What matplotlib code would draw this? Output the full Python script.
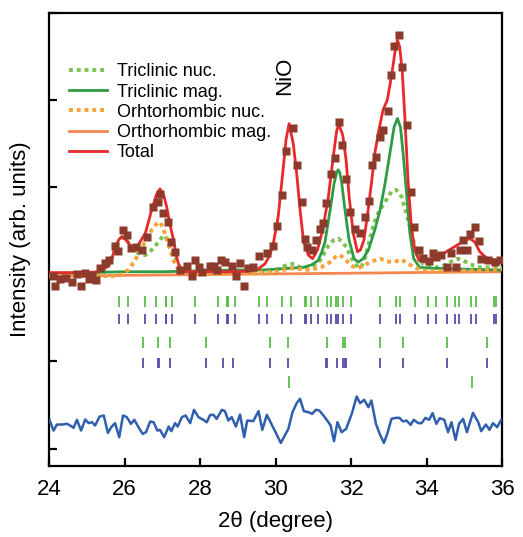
import numpy as np
import matplotlib
matplotlib.use("Agg")
import matplotlib.pyplot as plt

plt.rcParams['font.family'] = ['Liberation Sans', 'DejaVu Sans']

# observed intensity (brown squares)
obs_x = [24.10, 24.17, 24.30, 24.45, 24.60, 24.73, 24.85, 24.96, 25.05, 25.14, 25.24, 25.34,
         25.47, 25.58, 25.74, 25.84, 25.95, 26.06, 26.18, 26.30, 26.46, 26.59, 26.75, 26.88,
         26.95, 27.03, 27.15, 27.24, 27.34, 27.47, 27.65, 27.78, 27.87, 27.96, 28.05, 28.27,
         28.37, 28.44, 28.55, 28.66, 28.84, 28.95, 29.06, 29.17, 29.28, 29.41, 29.55, 29.77,
         29.94, 30.05, 30.16, 30.28, 30.45, 30.56, 30.69, 30.78, 30.84, 30.97, 31.07, 31.18,
         31.27, 31.35, 31.46, 31.57, 31.68, 31.75, 31.87, 31.97, 32.10, 32.25, 32.37, 32.47,
         32.55, 32.65, 32.77, 32.85, 32.97, 33.05, 33.14, 33.27, 33.36, 33.47, 33.58, 33.67,
         33.80, 33.91, 34.06, 34.16, 34.26, 34.38, 34.53, 34.64, 34.79, 34.88, 34.97, 35.07,
         35.16, 35.28, 35.39, 35.45, 35.63, 35.81, 35.94]
obs_y = [-0.02, -0.13, -0.05, -0.04, -0.09, 0.00, -0.13, 0.02, -0.05, -0.01, -0.06, 0.07,
         0.13, 0.16, 0.33, 0.27, 0.51, 0.45, 0.30, 0.31, 0.28, 0.43, 0.77, 0.83,
         0.92, 0.70, 0.60, 0.37, 0.26, 0.05, 0.10, -0.02, 0.16, 0.08, 0.03, 0.10,
         0.10, 0.05, 0.16, 0.14, 0.10, -0.02, 0.13, -0.13, 0.07, 0.08, 0.21, 0.24,
         0.33, 0.55, 0.91, 1.42, 1.68, 1.26, 0.83, 0.41, 0.31, 0.28, 0.40, 0.52,
         0.59, 0.82, 1.15, 1.34, 1.75, 1.48, 1.09, 0.72, 0.52, 0.48, 0.66, 0.84,
         1.26, 1.35, 1.58, 1.66, 1.87, 2.29, 2.62, 2.75, 2.38, 1.71, 0.95, 0.54,
         0.28, 0.19, 0.15, 0.25, 0.20, 0.22, 0.08, 0.24, 0.08, 0.28, 0.40, 0.28,
         0.46, 0.54, 0.38, 0.18, 0.16, 0.14, 0.16]

# total fit (red)
tot_x = [24.0, 24.5, 25.0, 25.3, 25.45, 25.58, 25.68, 25.75, 25.85, 25.93, 26.05, 26.21,
         26.35, 26.55, 26.72, 26.85, 26.94, 27.03, 27.12, 27.2, 27.3, 27.38, 27.47, 27.6,
         28.0, 28.5, 29.0, 29.3, 29.5, 29.72, 29.85, 29.94, 30.07, 30.2, 30.28, 30.36,
         30.47, 30.56, 30.65, 30.74, 30.87, 30.98, 31.11, 31.25, 31.4, 31.53, 31.62, 31.68,
         31.78, 31.87, 31.95, 32.06, 32.17, 32.25, 32.34, 32.43, 32.55, 32.63, 32.74, 32.85,
         32.96, 33.07, 33.16, 33.23, 33.29, 33.36, 33.43, 33.51, 33.6, 33.69, 33.8, 34.0,
         34.26, 34.53, 34.79, 35.01, 35.16, 35.28, 35.41, 35.58, 35.76, 35.95, 36.0]
tot_y = [0.02, 0.02, 0.02, 0.03, 0.06, 0.10, 0.20, 0.30, 0.40, 0.43, 0.39, 0.30,
         0.33, 0.47, 0.74, 0.92, 0.98, 0.92, 0.77, 0.58, 0.39, 0.20, 0.06, 0.03,
         0.03, 0.03, 0.03, 0.04, 0.05, 0.12, 0.22, 0.35, 0.66, 1.20, 1.55, 1.73,
         1.50, 1.16, 0.74, 0.39, 0.22, 0.18, 0.28, 0.51, 0.89, 1.35, 1.65, 1.72,
         1.60, 1.31, 0.89, 0.47, 0.26, 0.28, 0.39, 0.66, 1.08, 1.39, 1.66, 1.89,
         2.00, 2.27, 2.54, 2.69, 2.61, 2.31, 1.77, 1.08, 0.54, 0.28, 0.16, 0.14,
         0.19, 0.26, 0.33, 0.39, 0.41, 0.37, 0.26, 0.19, 0.17, 0.15, 0.15]

# triclinic magnetic (green solid)
tmag_x = [24.0, 25.0, 26.0, 27.0, 28.0, 29.0, 29.68, 30.38, 30.74, 30.96, 31.13, 31.22,
          31.31, 31.44, 31.55, 31.62, 31.66, 31.70, 31.75, 31.84, 31.95, 32.08, 32.19, 32.32,
          32.46, 32.63, 32.77, 32.9, 33.03, 33.14, 33.23, 33.31, 33.38, 33.47, 33.56, 33.66,
          33.82, 34.17, 35.0, 36.0]
tmag_y = [0.01, 0.02, 0.03, 0.03, 0.04, 0.05, 0.05, 0.07, 0.08, 0.11, 0.16, 0.25,
          0.37, 0.72, 1.04, 1.17, 1.20, 1.17, 1.06, 0.74, 0.39, 0.18, 0.14, 0.18,
          0.28, 0.51, 0.74, 1.04, 1.39, 1.69, 1.79, 1.69, 1.39, 0.93, 0.47, 0.18,
          0.08, 0.07, 0.06, 0.05]

# triclinic nuclear (green dotted)
tnuc_x = [24.0, 25.0, 25.4, 25.53, 25.67, 25.8, 25.93, 26.06, 26.21, 26.37, 26.55, 26.72,
          26.9, 27.03, 27.12, 27.21, 27.34, 27.47, 27.6, 28.0, 29.0, 29.8, 30.03, 30.2,
          30.38, 30.5, 30.65, 30.9, 31.05, 31.18, 31.3, 31.4, 31.53, 31.66, 31.78, 31.88,
          32.0, 32.1, 32.2, 32.27, 32.38, 32.49, 32.58, 32.67, 32.78, 32.9, 33.07, 33.2,
          33.34, 33.47, 33.6, 33.74, 33.91, 34.26, 34.45, 34.62, 34.84, 35.06, 35.25, 35.41,
          35.94, 36.0]
tnuc_y = [-0.01, 0.0, 0.01, 0.05, 0.20, 0.35, 0.43, 0.39, 0.30, 0.24, 0.22, 0.28,
          0.37, 0.45, 0.41, 0.33, 0.20, 0.08, 0.03, 0.02, 0.03, 0.04, 0.05, 0.09,
          0.12, 0.12, 0.08, 0.08, 0.11, 0.16, 0.25, 0.33, 0.39, 0.41, 0.37, 0.31,
          0.20, 0.12, 0.08, 0.08, 0.20, 0.39, 0.54, 0.66, 0.75, 0.83, 0.95, 0.97,
          0.89, 0.70, 0.47, 0.24, 0.12, 0.08, 0.10, 0.14, 0.18, 0.14, 0.10, 0.08,
          0.08, 0.08]

# orthorhombic nuclear (orange dotted)
onuc_x = [24.0, 25.0, 25.67, 25.93, 26.1, 26.28, 26.46, 26.59, 26.72, 26.85, 26.94, 27.03,
          27.16, 27.3, 27.43, 27.6, 28.0, 29.0, 30.0, 30.4, 30.7, 30.9, 31.2, 31.44,
          31.53, 31.65, 31.71, 31.8, 31.88, 32.0, 32.15, 32.3, 32.5, 32.77, 32.95, 33.12,
          33.34, 33.51, 33.74, 34.0, 35.0, 35.6, 36.0]
onuc_y = [-0.02, -0.02, -0.02, 0.0, 0.05, 0.16, 0.31, 0.41, 0.51, 0.58, 0.60, 0.52,
          0.35, 0.16, 0.05, 0.01, 0.0, 0.01, 0.03, 0.07, 0.06, 0.05, 0.08, 0.14,
          0.18, 0.22, 0.22, 0.19, 0.16, 0.10, 0.07, 0.09, 0.14, 0.18, 0.15, 0.14,
          0.17, 0.12, 0.07, 0.04, 0.04, 0.05, 0.06]

# orthorhombic magnetic (orange solid)
omag_x = [24.0, 30.0, 36.0]
omag_y = [-0.02, 0.005, 0.03]

# difference curve (blue)
diff_x = [24.02, 24.12, 24.21, 24.34, 24.48, 24.56, 24.65, 24.74, 24.85, 24.96, 25.05, 25.14,
          25.22, 25.34, 25.45, 25.56, 25.65, 25.75, 25.86, 25.96, 26.06, 26.17, 26.26, 26.37,
          26.48, 26.57, 26.68, 26.77, 26.87, 26.94, 27.05, 27.17, 27.24, 27.34, 27.41, 27.52,
          27.62, 27.74, 27.84, 27.96, 28.09, 28.18, 28.27, 28.36, 28.44, 28.58, 28.66, 28.75,
          28.84, 28.95, 29.06, 29.17, 29.25, 29.41, 29.55, 29.65, 29.77, 29.88, 30.00, 30.14,
          30.34, 30.45, 30.56, 30.65, 30.75, 30.87, 30.97, 31.07, 31.16, 31.27, 31.40, 31.46,
          31.55, 31.64, 31.75, 31.87, 32.02, 32.15, 32.24, 32.35, 32.46, 32.54, 32.66, 32.76,
          32.87, 32.96, 33.07, 33.19, 33.28, 33.38, 33.47, 33.58, 33.66, 33.78, 33.87, 33.97,
          34.07, 34.16, 34.26, 34.35, 34.47, 34.57, 34.66, 34.77, 34.86, 34.97, 35.07, 35.23,
          35.37, 35.45, 35.57, 35.67, 35.76, 35.87, 35.98]
diff_y = [-1.678, -1.793, -1.724, -1.724, -1.716, -1.735, -1.762, -1.670, -1.793, -1.666, -1.708, -1.697,
          -1.735, -1.632, -1.620, -1.820, -1.754, -1.708, -1.869, -1.620, -1.639, -1.716, -1.670, -1.754,
          -1.831, -1.812, -1.689, -1.697, -1.793, -1.785, -1.869, -1.747, -1.800, -1.708, -1.747, -1.639,
          -1.620, -1.708, -1.555, -1.639, -1.670, -1.697, -1.613, -1.613, -1.659, -1.555, -1.570, -1.678,
          -1.639, -1.747, -1.609, -1.869, -1.678, -1.685, -1.570, -1.785, -1.613, -1.708, -1.812, -1.935,
          -1.774, -1.582, -1.479, -1.429, -1.570, -1.582, -1.601, -1.555, -1.563, -1.620, -1.697, -1.735,
          -1.915, -1.697, -1.812, -1.774, -1.601, -1.402, -1.479, -1.440, -1.525, -1.448, -1.716, -1.831,
          -1.935, -1.831, -1.659, -1.647, -1.647, -1.689, -1.678, -1.728, -1.670, -1.708, -1.708, -1.647,
          -1.670, -1.593, -1.716, -1.651, -1.670, -1.812, -1.697, -1.900, -1.716, -1.659, -1.812, -1.590,
          -1.697, -1.800, -1.724, -1.785, -1.708, -1.754, -1.670]

# Bragg reflection positions
bragg_tri = [25.85, 26.10, 26.53, 26.83, 27.09, 27.11, 27.25, 27.87, 28.48, 28.71, 28.75, 28.93,
             29.57, 29.77, 30.17, 30.40, 30.78, 30.82, 30.93, 31.12, 31.37, 31.46, 31.59, 31.65,
             31.78, 32.01, 32.76, 33.18, 33.29, 33.69, 34.05, 34.24, 34.54, 34.75, 34.85, 35.19,
             35.30, 35.80, 35.83]
bragg_ort_a = [26.48, 26.90, 27.21, 28.17, 29.85, 30.34, 31.37, 31.78, 31.85, 32.77, 33.39,
               34.53, 35.61]
bragg_ort_b = [26.48, 26.90, 26.92, 27.21, 28.17, 28.61, 28.87, 29.85, 30.34, 31.35, 31.37,
               31.62, 31.78, 31.85, 31.87, 32.77, 33.39, 34.53, 35.61]
bragg_nio = [30.35, 35.20]

green_tick = '#5bbd4c'
purple_tick = '#5a4aa8'

fig = plt.figure(figsize=(5.23, 5.37), dpi=100)
ax = fig.add_axes([0.0937, 0.1322, 0.8662, 0.8436])

ax.plot(tnuc_x, tnuc_y, color='#7cc24e', lw=2.8, ls=(0, (1, 1)), label='Triclinic nuc.', zorder=3)
ax.plot(tmag_x, tmag_y, color='#2e9b45', lw=2.0, label='Triclinic mag.', zorder=3)
ax.plot(onuc_x, onuc_y, color='#f7a234', lw=2.8, ls=(0, (1, 1)), label='Orhtorhombic nuc.', zorder=3)
ax.plot(omag_x, omag_y, color='#f4874f', lw=2.0, label='Orthorhombic mag.', zorder=2)
ax.plot(tot_x, tot_y, color='#e8282b', lw=2.0, label='Total', zorder=4)
ax.plot(obs_x, obs_y, ls='none', marker='s', ms=5.5, color='#8b3a2b', mec='none', zorder=5)
ax.plot(diff_x, diff_y, color='#2f5fad', lw=1.8, zorder=3)

ax.vlines(bragg_tri, -0.38, -0.25, color=green_tick, lw=1.3)
ax.vlines(bragg_tri, -0.575, -0.45, color=purple_tick, lw=1.3)
ax.vlines(bragg_ort_a, -0.85, -0.72, color=green_tick, lw=1.3)
ax.vlines(bragg_ort_b, -1.08, -0.955, color=purple_tick, lw=1.3)
ax.vlines(bragg_nio, -1.30, -1.17, color=green_tick, lw=1.3)

ax.text(30.25, 2.28, 'NiO', rotation=90, ha='center', va='center', fontsize=16)

ax.set_xlim(24, 36)
ax.set_ylim(-2.2, 3)
ax.set_xticks(np.arange(24, 37, 2))
ax.set_yticks([-2, -1, 0, 1, 2, 3])
ax.set_yticklabels([])
ax.tick_params(direction='in', length=6, width=1.6, labelsize=16, pad=9,
               top=False, right=False)
for s in ax.spines.values():
    s.set_linewidth(1.6)

ax.set_xlabel('2\u03b8 (degree)', fontsize=16, labelpad=8)
ax.set_ylabel('Intensity (arb. units)', fontsize=16, labelpad=4)

ax.legend(loc='upper left', bbox_to_anchor=(0.028, 0.905), frameon=False, fontsize=13,
          handlelength=2.1, handletextpad=0.55, labelspacing=0.18, borderaxespad=0)

fig.savefig('out.png', dpi=100)
